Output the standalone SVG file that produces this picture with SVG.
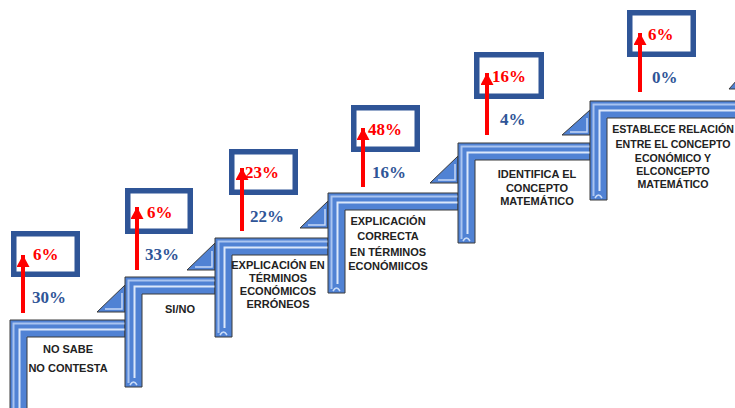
<svg xmlns="http://www.w3.org/2000/svg" width="735" height="408" viewBox="0 0 735 408">
<defs>
<style>
.bar{fill:#5082d4;stroke:#3a3a3a;stroke-width:1}
.hl1{fill:none;stroke:#a9c4f0;stroke-width:2}
.hl2{fill:none;stroke:#dbe7fa;stroke-width:2}
.sh{fill:none;stroke:#c9dbf7;stroke-width:1.5}
.tri{fill:#5082d4;stroke:#3a3a3a;stroke-width:1}
.trih{fill:none;stroke:#c5d8f6;stroke-width:1.5}
.box{fill:#fff;stroke:#2f5597;stroke-width:5.5}
.arr{stroke:#ff0000;stroke-width:4;marker-end:url(#ah)}
.red{font-family:"Liberation Serif",serif;font-weight:bold;font-size:17px;fill:#ff0000}
.blue{font-family:"Liberation Serif",serif;font-weight:bold;font-size:17px;fill:#2f5597}
.lbl{font-family:"Liberation Sans",Arial,sans-serif;font-weight:bold;font-size:11px;fill:#222;text-anchor:middle}
.lbl6{font-size:10.6px}
</style>
<marker id="ah" markerUnits="userSpaceOnUse" markerWidth="14" markerHeight="13" refX="12" refY="6.5" orient="auto">
<path d="M0,0 L12,6.5 L0,13 Z" fill="#ff0000"/>
</marker>
</defs>
<rect width="735" height="408" fill="#fff"/>

<g id="step1">
<path class="bar" d="M10,320 H125 V337 H27 V420 H10 Z"/>
<path class="hl1" d="M125,323.5 H13.5 V420"/>
<path class="hl2" d="M125,329.5 H19.5 V420"/>
<text class="lbl" x="68" y="353">NO SABE</text>
<text class="lbl" x="68" y="372">NO CONTESTA</text>
</g>

<g id="step2">
<path class="tri" d="M97,312 H125 V285 Z"/>
<path class="trih" d="M105,309 H122 V293"/>
<path class="bar" d="M125,277 H215 V294 H142 V387 H125 Z"/>
<path class="hl1" d="M215,280.5 H128.5 V383"/>
<path class="hl2" d="M215,286.5 H134.5 V378"/>
<path class="sh" d="M130,385 Q133.5,379 137,385"/>
<text class="lbl" x="180" y="313">SI/NO</text>
</g>

<g id="step3">
<path class="tri" d="M187,270 H215 V243 Z"/>
<path class="trih" d="M195,267 H212 V251"/>
<path class="bar" d="M215,238 H328 V255 H232 V337 H215 Z"/>
<path class="hl1" d="M328,241.5 H218.5 V333"/>
<path class="hl2" d="M328,247.5 H224.5 V328"/>
<path class="sh" d="M220,335 Q223.5,329 227,335"/>
<text class="lbl" x="278" y="269">EXPLICACIÓN EN</text>
<text class="lbl" x="278" y="282">TÉRMINOS</text>
<text class="lbl" x="278" y="295">ECONÓMICOS</text>
<text class="lbl" x="278" y="308">ERRÓNEOS</text>
</g>

<g id="step4">
<path class="tri" d="M300,228 H328 V201 Z"/>
<path class="trih" d="M308,225 H325 V209"/>
<path class="bar" d="M328,193 H458 V210 H345 V293 H328 Z"/>
<path class="hl1" d="M458,196.5 H331.5 V289"/>
<path class="hl2" d="M458,202.5 H337.5 V284"/>
<path class="sh" d="M333,291 Q336.5,285 340,291"/>
<text class="lbl" x="388" y="225">EXPLICACIÓN</text>
<text class="lbl" x="388" y="240">CORRECTA</text>
<text class="lbl" x="388" y="256">EN TÉRMINOS</text>
<text class="lbl" x="388" y="270">ECONÓMIICOS</text>
</g>

<g id="step5">
<path class="tri" d="M430,183 H458 V156 Z"/>
<path class="trih" d="M438,180 H455 V164"/>
<path class="bar" d="M458,143 H590 V160 H475 V243 H458 Z"/>
<path class="hl1" d="M590,146.5 H461.5 V239"/>
<path class="hl2" d="M590,152.5 H467.5 V234"/>
<path class="sh" d="M463,241 Q466.5,235 470,241"/>
<text class="lbl" x="537" y="178">IDENTIFICA EL</text>
<text class="lbl" x="537" y="192">CONCEPTO</text>
<text class="lbl" x="537" y="205">MATEMÁTICO</text>
</g>

<g id="step6">
<path class="tri" d="M562,135 H590 V110 Z"/>
<path class="trih" d="M570,132 H587 V118"/>
<path class="bar" d="M590,101 H745 V118 H607 V200 H590 Z"/>
<path class="hl1" d="M745,104.5 H593.5 V196"/>
<path class="hl2" d="M745,110.5 H599.5 V191"/>
<path class="sh" d="M595,198 Q598.5,192 602,198"/>
<path class="tri" d="M729,89 H737 V80 Z"/>
<text class="lbl lbl6" x="673" y="133">ESTABLECE RELACIÓN</text>
<text class="lbl lbl6" x="673" y="148">ENTRE EL CONCEPTO</text>
<text class="lbl lbl6" x="673" y="162">ECONÓMICO Y</text>
<text class="lbl lbl6" x="673" y="175">ELCONCEPTO</text>
<text class="lbl lbl6" x="673" y="188">MATEMÁTICO</text>
</g>

<g id="box1"><rect class="box" x="13.75" y="233.75" width="63.5" height="40.5"/><text class="red" x="33" y="260">6%</text><text class="blue" x="32" y="303">30%</text></g>
<g id="box2"><rect class="box" x="127.75" y="190.75" width="62.5" height="40.5"/><text class="red" x="147" y="218">6%</text><text class="blue" x="145" y="260">33%</text></g>
<g id="box3"><rect class="box" x="231.75" y="151.75" width="63.5" height="40.5"/><text class="red" x="245" y="178">23%</text><text class="blue" x="250" y="222">22%</text></g>
<g id="box4"><rect class="box" x="353.75" y="107.75" width="63.5" height="41.5"/><text class="red" x="368" y="135">48%</text><text class="blue" x="372" y="178">16%</text></g>
<g id="box5"><rect class="box" x="476.75" y="54.75" width="64.5" height="41.5"/><text class="red" x="492" y="82">16%</text><text class="blue" x="500" y="125">4%</text></g>
<g id="box6"><rect class="box" x="629.75" y="12.75" width="63.5" height="41.5"/><text class="red" x="648" y="40">6%</text><text class="blue" x="652" y="83">0%</text></g>

<g id="connectors">
<line class="arr" x1="23" y1="313" x2="23" y2="255"/>
<line class="arr" x1="137" y1="270" x2="137" y2="207"/>
<line class="arr" x1="242" y1="231" x2="242" y2="168"/>
<line class="arr" x1="363" y1="187" x2="363" y2="128"/>
<line class="arr" x1="487" y1="135" x2="487" y2="73"/>
<line class="arr" x1="640" y1="92" x2="640" y2="33"/>
</g>
</svg>
